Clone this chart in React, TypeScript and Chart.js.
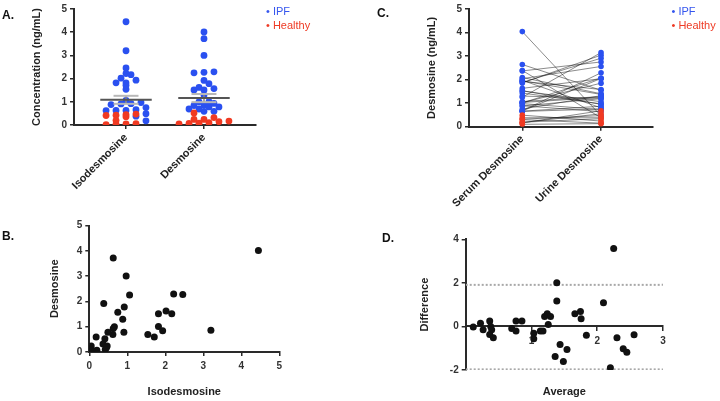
import React, { useEffect, useRef } from 'react';
import { Chart, registerables } from 'chart.js';
Chart.register(...registerables);

// ---------------- data ----------------
const stripCategories = ['Isodesmosine', 'Desmosine'];
const pairCategories = ['Serum Desmosine', 'Urine Desmosine'];
const legendLabels = ['IPF', 'Healthy'];

// paired isodesmosine / desmosine concentrations (ng/mL), panels A and B
const isoIPF = [4.45, 0.63, 0.97, 1.06, 2.22, 2.46, 0.38, 0.75, 0.92, 0.88, 1.82, 2.02, 2.17, 1.82, 1.93, 3.2, 1.54, 1.71, 0.66, 0.63, 0.62, 0.91, 0.49, 0.18];
const desIPF = [4.01, 3.72, 3.0, 2.25, 2.29, 2.27, 1.92, 1.57, 1.78, 1.29, 1.51, 1.62, 1.51, 1.01, 0.84, 0.86, 0.69, 0.59, 1.0, 0.93, 0.69, 0.78, 0.78, 0.59];
const isoHealthy = [0.41, 0.36, 0.47, 0.45, 0.42, 0.2, 0.05, 0.04, 0.06, 0.02];
const desHealthy = [0.52, 0.32, 0.24, 0.17, 0.1, 0.07, 0.24, 0.14, 0.08, 0.05];

// paired serum / urine desmosine (ng/mL), panels C and D
const serumHealthy = [0.10, 0.30, 0.19, 0.49, 0.38, 0.32, 0.18, 0.16];
const urineHealthy = [0.13, 0.15, 0.34, 0.24, 0.38, 0.47, 0.55, 0.68];
const serumIPF = [0.65, 0.66, 0.89, 0.98, 0.88, 0.75, 1.03, 1.07, 1.43, 1.53, 1.52, 1.30, 2.39, 1.97, 0.67, 1.02, 0.68, 1.01, 1.95, 2.09, 1.93, 1.63, 2.64, 4.04, 1.25, 2.04, 1.88, 1.86, 2.37];
const urineIPF = [0.75, 0.87, 0.64, 0.73, 1.19, 1.32, 1.24, 1.28, 0.97, 0.95, 1.06, 1.21, 0.38, 0.80, 2.05, 1.85, 2.29, 2.07, 1.37, 1.40, 1.58, 2.04, 1.55, 0.46, 3.15, 2.56, 2.91, 3.04, 2.75];

const concTicks = [0, 1, 2, 3, 4, 5];
const diffTicks = [-2, 0, 2, 4];
const avgTicks = [1, 2, 3];

// ---------------- styles ----------------
const BLUE = '#2a50f0';
const RED = '#f03a22';
const AX = '#2a2a2a';
const FONT = '"Liberation Sans", Arial, Helvetica, sans-serif';
const tickFont = { family: FONT, size: 10, weight: 'bold' as const };
const titleFont = { family: FONT, size: 11, weight: 'bold' as const };

// ---------------- helpers ----------------
// binned dot-plot layout: values sharing a bin are spread side by side, centred on the column
function swarm(groups: number[][], step: number, bin: number) {
  const rows = new Map<number, { v: number; g: number; i: number }[]>();
  groups.forEach((arr, g) => arr.forEach((v, i) => {
    const k = Math.floor(v / bin);
    if (!rows.has(k)) rows.set(k, []);
    rows.get(k)!.push({ v, g, i });
  }));
  const out = groups.map((arr) => arr.map(() => 0));
  rows.forEach((row) => {
    row.sort((a, b) => a.v - b.v);
    row.forEach((p, k) => { out[p.g][p.i] = (k - (row.length - 1) / 2) * step; });
  });
  return out;
}

function meanSem(v: number[]) {
  const n = v.length;
  const m = v.reduce((a, b) => a + b, 0) / n;
  const sd = Math.sqrt(v.reduce((a, b) => a + (b - m) ** 2, 0) / (n - 1));
  return [m, sd / Math.sqrt(n), sd];
}

const pts = (data: any[], color: string, r: number) => ({
  data, showLine: false, pointRadius: r, pointBackgroundColor: color, pointBorderWidth: 0, pointHoverRadius: r,
});
const seg = (data: any[], color: string, w: number, dash: number[] = []) => ({
  data, showLine: true, borderColor: color, borderWidth: w, borderDash: dash, pointRadius: 0, fill: false,
});
const ticksAt = (vals: number[]) => (s: any) => { s.ticks = vals.map((v) => ({ value: v })); };
const fixed = (size: number) => (s: any) => { if (s.isHorizontal()) s.height = size; else s.width = size; };

function axis(min: number, max: number, vals: number[], size: number, extra: any = {}) {
  return {
    type: 'linear',
    min, max,
    afterBuildTicks: ticksAt(vals),
    afterFit: fixed(size),
    grid: { display: true, drawOnChartArea: false, drawTicks: true, tickLength: 4, color: AX, lineWidth: 1.5 },
    border: { display: true, color: AX, width: 2 },
    ...extra,
    ticks: { font: tickFont, color: '#333', padding: 3, autoSkip: false, maxRotation: 0, ...(extra.ticks || {}) },
  };
}

const baseOpts = (padding: any, scales: any) => ({
  animation: false,
  responsive: false,
  maintainAspectRatio: false,
  events: [],
  layout: { padding },
  plugins: { legend: { display: false }, tooltip: { enabled: false } },
  scales,
});

// ---------------- panel configs ----------------
function stripConfig() {
  const offIso = swarm([isoIPF, isoHealthy], 0.128, 0.2);
  const offDes = swarm([desIPF, desHealthy], 0.128, 0.2);
  const cols: [number[], number[], number[][]][] = [[isoIPF, isoHealthy, offIso], [desIPF, desHealthy, offDes]];
  const datasets: any[] = [];
  // mean ± SEM first so it is drawn above the dots
  cols.forEach(([ipf, hl], c) => {
    const [m, s] = meanSem([...ipf, ...hl]);
    datasets.push(seg([{ x: c - 0.33, y: m }, { x: c + 0.33, y: m }], '#555555', 2));
    datasets.push(seg([{ x: c - 0.16, y: m + s }, { x: c + 0.16, y: m + s }], '#b8b8b8', 2));
    datasets.push(seg([{ x: c - 0.16, y: m - s }, { x: c + 0.16, y: m - s }], '#b8b8b8', 2));
    datasets.push(seg([{ x: c, y: m - s }, { x: c, y: m + s }], '#8a8a8a', 1.5));
  });
  cols.forEach(([ipf, hl, off], c) => {
    datasets.push(pts(hl.map((v, i) => ({ x: c + off[1][i], y: v })), RED, 3.4));
    datasets.push(pts(ipf.map((v, i) => ({ x: c + off[0][i], y: v })), BLUE, 3.4));
  });
  return {
    type: 'scatter',
    data: { datasets },
    options: baseOpts({ left: 0, top: 5, right: 464, bottom: 196 }, {
      x: axis(-0.667, 1.667, [0, 1], 80, {
        ticks: { callback: (v: number) => stripCategories[v], minRotation: 45, maxRotation: 45, font: titleFont, color: '#222', padding: 2 },
      }),
      y: axis(0, 5, concTicks, 74, {
        title: { display: true, text: 'Concentration (ng/mL)', font: titleFont, color: '#222', padding: { top: 30, bottom: 0 } },
      }),
    }),
  };
}

function pairedConfig() {
  const datasets: any[] = [];
  datasets.push(pts([...serumHealthy.map((v) => ({ x: 0, y: v })), ...urineHealthy.map((v) => ({ x: 1, y: v }))], RED, 2.8));
  datasets.push(pts([...serumIPF.map((v) => ({ x: 0, y: v })), ...urineIPF.map((v) => ({ x: 1, y: v }))], BLUE, 2.8));
  const s = [...serumHealthy, ...serumIPF];
  const u = [...urineHealthy, ...urineIPF];
  s.forEach((v, i) => datasets.push(seg([{ x: 0, y: v }, { x: 1, y: u[i] }], 'rgba(20,20,20,0.55)', 0.9)));
  return {
    type: 'scatter',
    data: { datasets },
    options: baseOpts({ left: 400, top: 5, right: 67, bottom: 194.3 }, {
      x: axis(-0.677, 1.66, [0, 1], 80, {
        ticks: { callback: (v: number) => pairCategories[v], minRotation: 45, maxRotation: 45, font: titleFont, color: '#222', padding: 2 },
      }),
      y: axis(0, 5, concTicks, 69, {
        title: { display: true, text: 'Desmosine (ng/mL)', font: titleFont, color: '#222', padding: { top: 25, bottom: 0 } },
      }),
    }),
  };
}

function correlationConfig() {
  const iso = [...isoIPF, ...isoHealthy];
  const des = [...desIPF, ...desHealthy];
  return {
    type: 'scatter',
    data: { datasets: [pts(iso.map((v, i) => ({ x: v, y: des[i] })), '#111', 3.5)] },
    options: baseOpts({ left: 40, top: 225.5, right: 440.7, bottom: 0 }, {
      x: axis(0, 5, concTicks, 49, {
        ticks: { padding: 4 },
        title: { display: true, text: 'Isodesmosine', font: titleFont, color: '#222', padding: { top: 0, bottom: 2 } },
      }),
      y: axis(0, 5, concTicks, 49.3, {
        title: { display: true, text: 'Desmosine', font: titleFont, color: '#222', padding: { top: 8.4, bottom: 0 } },
      }),
    }),
  };
}

function blandAltmanConfig() {
  const s = [...serumHealthy, ...serumIPF];
  const u = [...urineHealthy, ...urineIPF];
  const avg = s.map((v, i) => (v + u[i]) / 2);
  const diff = s.map((v, i) => v - u[i]);
  const [bias, , sd] = meanSem(diff);
  const hi = bias + 1.96 * sd;
  const lo = bias - 1.96 * sd;
  return {
    type: 'scatter',
    data: {
      datasets: [
        pts(avg.map((a, i) => ({ x: a, y: diff[i] })), '#111', 3.5),
        seg([{ x: 0, y: hi }, { x: 3, y: hi }], '#a8a8a8', 2, [2, 2]),
        seg([{ x: 0, y: lo }, { x: 3, y: lo }], '#a8a8a8', 2, [2, 2]),
      ],
    },
    options: baseOpts({ left: 400, top: 239.3, right: 57, bottom: 0 }, {
      x: axis(0, 3, avgTicks, 0, { position: { y: 0 }, ticks: { padding: 5 } }),
      x2: {
        type: 'linear', min: 0, max: 3, position: 'bottom', afterFit: fixed(31),
        ticks: { display: false }, grid: { display: false }, border: { display: false },
        title: { display: true, text: 'Average', font: titleFont, color: '#222', padding: { top: 0, bottom: 2 } },
      },
      y: axis(-2, 4, diffTicks, 65.7, {
        title: { display: true, text: 'Difference', font: titleFont, color: '#222', padding: { top: 18.4, bottom: 0 } },
      }),
    }),
  };
}

// ---------------- components ----------------
function ChartLayer({ make }: { make: () => any }) {
  const ref = useRef<HTMLCanvasElement>(null);
  useEffect(() => {
    const chart = new Chart(ref.current as HTMLCanvasElement, make());
    return () => chart.destroy();
  }, []);
  return <canvas ref={ref} width={720} height={401} style={{ position: 'absolute', left: 0, top: 0, width: 720, height: 401 }} />;
}

const Label = ({ text, left, top }: { text: string; left: number; top: number }) => (
  <div style={{ position: 'absolute', left, top, font: `bold 12px ${FONT}`, lineHeight: 1, color: '#111', whiteSpace: 'nowrap' }}>{text}</div>
);

const Legend = ({ left, top }: { left: number; top: number }) => (
  <>
    {legendLabels.map((t, i) => (
      <div key={t} style={{ position: 'absolute', left, top: top + i * 14, font: `11px ${FONT}`, lineHeight: 1, color: i === 0 ? '#3556ee' : '#ee3a24', whiteSpace: 'nowrap' }}>
        {'\u2022 ' + t}
      </div>
    ))}
  </>
);

export default function App() {
  return (
    <div style={{ position: 'fixed', left: 0, top: 0, width: 720, height: 401, background: '#fff', overflow: 'hidden' }}>
      <ChartLayer make={stripConfig} />
      <ChartLayer make={pairedConfig} />
      <ChartLayer make={correlationConfig} />
      <ChartLayer make={blandAltmanConfig} />
      <Label text="A." left={2} top={8.5} />
      <Label text="B." left={2} top={230} />
      <Label text="C." left={377} top={7} />
      <Label text="D." left={382} top={231.5} />
      <Legend left={266} top={6} />
      <Legend left={671.5} top={6} />
    </div>
  );
}
